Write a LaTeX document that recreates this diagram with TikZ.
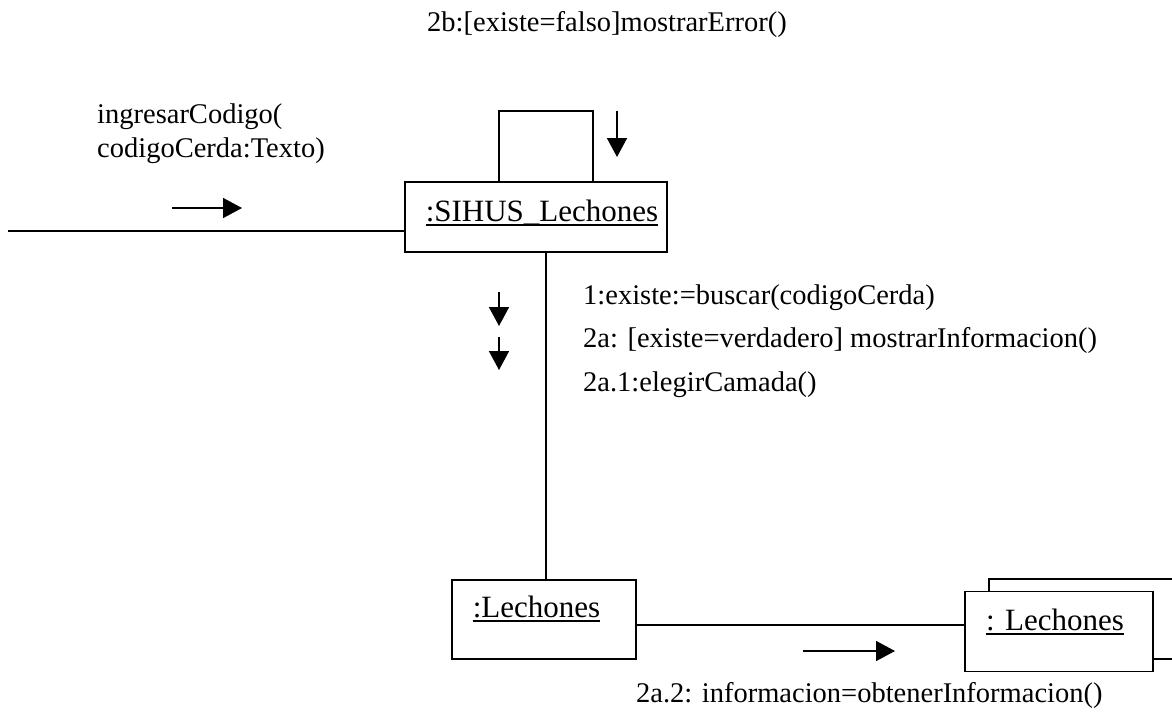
\documentclass[tikz,border=0pt]{standalone}
\usepackage{fontspec}
\setmainfont{Liberation Serif}
\usetikzlibrary{arrows.meta}
\begin{document}
\begin{tikzpicture}[x=1pt,y=-1pt,
  every node/.style={font=\fontsize{28.5}{34}\selectfont},
  objbox/.style={draw,line width=1.6pt,inner sep=0pt},
  objlbl/.style={inner sep=0pt,font=\fontsize{31}{36}\selectfont},
  uline/.style={line width=1.4pt},
  conn/.style={line width=1.6pt},
  msg/.style={line width=1.6pt,-{Triangle[length=19pt,width=20pt]}},
  lbl/.style={inner sep=0pt,anchor=west}]
\useasboundingbox (0,0) rectangle (1172,718);
% objects
\node[objbox,minimum width=262pt,minimum height=70pt] (sihus) at (536,217) {};
\node[objlbl,anchor=base] (sihust) at (542,221) {:SIHUS\_Lechones};
\draw[uline] ([yshift=-4pt]sihust.base west) -- ([yshift=-4pt]sihust.base east);
\node[objbox,minimum width=184pt,minimum height=79pt] (lech) at (544,619.5) {};
\node[objlbl,anchor=base] (lecht) at (536.5,617) {:Lechones};
\draw[uline] ([yshift=-4pt]lecht.base west) -- ([yshift=-4pt]lecht.base east);
% multi-object (back then front)
\coordinate (backtl) at (989,579);
\coordinate (backtr) at (1172,579);
\coordinate (backbr) at (1172,659);
\node[objbox,fill=white,minimum width=188pt,minimum height=80pt] (multi) at (1059,631.5) {};
\node[objlbl,anchor=base] (multit) at (1055,630) {: Lechones};
\draw[uline] ([yshift=-4pt]multit.base west) -- ([yshift=-4pt]multit.base east);
\draw[conn] (backtl |- multi.north) -- (backtl) -- (backtr);
\draw[conn] (multi.east |- backbr) -- (backbr);
% connectors
\coordinate (ext) at (8,231);
\draw[conn] (ext) -- (ext -| sihus.west);
\coordinate (vx) at (546,0);
\draw[conn] (sihus.south -| vx) -- (lech.north -| vx);
\coordinate (hy) at (0,625);
\draw[conn] (lech.east |- hy) -- (multi.west |- hy);
\coordinate (loopL) at (499,111);
\coordinate (loopR) at (593,111);
\draw[conn] (sihus.north -| loopL) -- (loopL) -- (loopR) -- (sihus.north -| loopR);
% message arrows
\draw[msg] (172,208) -- (242,208);
\draw[msg] (617,111) -- (617,157);
\draw[msg] (499,292) -- (499,326);
\draw[msg] (499,337) -- (499,370);
\draw[msg] (803,651) -- (895,651);
% labels
\node[lbl] (l2b) at (427,24) {2b:[existe=falso]mostrarError()};
\node[lbl,align=left] (lin) at (97,134) {ingresarCodigo(\\codigoCerda:Texto)};
\node[lbl] (l1) at (583,298) {1:existe:=buscar(codigoCerda)};
\node[lbl] (l2a) at (583,340) {2a: [existe=verdadero] mostrarInformacion()};
\node[lbl] (l2a1) at (583,385) {2a.1:elegirCamada()};
\node[lbl] (l2a2) at (636,695) {2a.2: informacion=obtenerInformacion()};
\end{tikzpicture}
\end{document}
